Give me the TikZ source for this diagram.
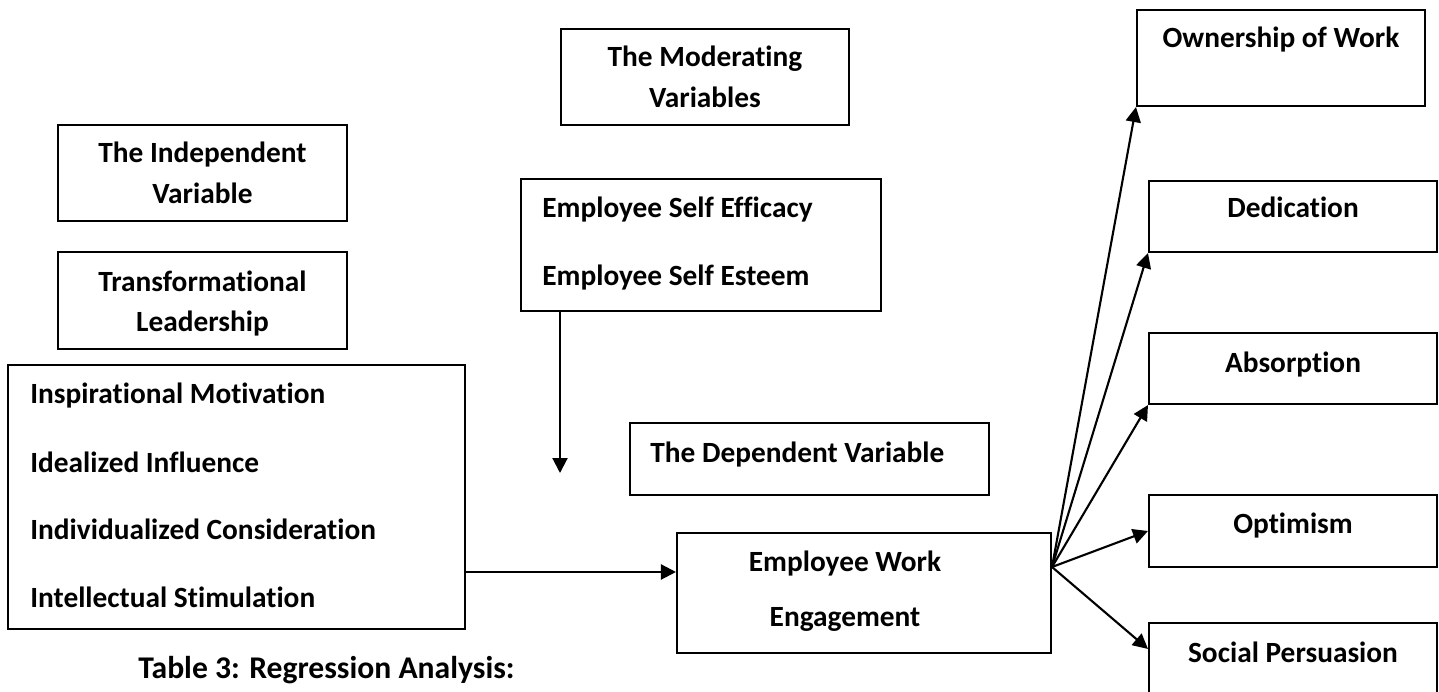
\documentclass[tikz,border=0pt]{standalone}
\usepackage{fontspec}
\setmainfont[Ligatures={NoCommon}]{Carlito}
\usetikzlibrary{arrows.meta}

\begin{document}
\begin{tikzpicture}[x=0.02cm, y=-0.02cm,
        box/.style={rectangle, draw, black, line width=1.2pt, inner sep=0pt},
        txt/.style={inner sep=0pt, font=\fontsize{16.7}{20}\selectfont\bfseries},
        arr/.style={-{Triangle[length=3mm, width=3mm]}, line width=1.2pt}]
        \useasboundingbox (0, 0) rectangle (1439, 692);

        % boxes
        \draw (202.5, 173) node[box, minimum width=5.78cm, minimum height=1.92cm](indep){}
        (202.5, 300.5) node[box, minimum width=5.78cm, minimum height=1.94cm](trans){}
        (236.5, 497) node[box, minimum width=9.14cm, minimum height=5.28cm](dims){}
        (705, 77) node[box, minimum width=5.76cm, minimum height=1.92cm](moder){}
        (701, 245) node[box, minimum width=7.2cm, minimum height=2.64cm](self){}
        (809.5, 459) node[box, minimum width=7.18cm, minimum height=1.44cm](dep){}
        (864, 593) node[box, minimum width=7.48cm, minimum height=2.4cm](eng){}
        (1281, 58) node[box, minimum width=5.76cm, minimum height=1.92cm](own){}
        (1293, 216.5) node[box, minimum width=5.76cm, minimum height=1.42cm](ded){}
        (1293, 368.5) node[box, minimum width=5.76cm, minimum height=1.42cm](abs){}
        (1293, 531) node[box, minimum width=5.76cm, minimum height=1.44cm](opt){}
        (1293, 671.5) node[box, minimum width=5.76cm, minimum height=1.94cm](soc){};

        % texts
        \node[txt, anchor=base] (indepa) at (202.5, 163) {The Independent};
        \node[txt, anchor=base] (indepb) at (202.5, 204) {Variable};
        \node[txt, anchor=base] (transa) at (202.5, 292) {Transformational};
        \node[txt, anchor=base] (transb) at (202.5, 332) {Leadership};
        \node[txt, anchor=base] (modera) at (705, 67) {The Moderating};
        \node[txt, anchor=base] (moderb) at (705, 108) {Variables};
        \node[txt, anchor=base west] (selfa) at (542, 218) {Employee Self Efficacy};
        \node[txt, anchor=base west] (selfb) at (542, 286) {Employee Self Esteem};
        \node[txt, anchor=base west] (dima) at (30, 403) {Inspirational Motivation};
        \node[txt, anchor=base west] (dimb) at (30, 472) {Idealized Influence};
        \node[txt, anchor=base west] (dimc) at (30, 539) {Individualized Consideration};
        \node[txt, anchor=base west] (dimd) at (30, 607) {Intellectual Stimulation};
        \node[txt, anchor=base west] (depa) at (650, 462) {The Dependent Variable};
        \node[txt, anchor=base] (enga) at (845, 571) {Employee Work};
        \node[txt, anchor=base] (engb) at (845, 626) {Engagement};
        \node[txt, anchor=base] (owna) at (1281, 48) {Ownership of Work};
        \node[txt, anchor=base] (deda) at (1293, 218) {Dedication};
        \node[txt, anchor=base] (absa) at (1293, 372) {Absorption};
        \node[txt, anchor=base] (opta) at (1293, 533) {Optimism};
        \node[txt, anchor=base] (soca) at (1293, 662) {Social Persuasion};
        \node[txt, anchor=base west, font=\fontsize{18}{22}\selectfont\bfseries] (cap) at (138, 678) {Table 3: Regression Analysis:};

        % connectors
        \coordinate (modtip) at (560, 473);
        \coordinate (inl) at ([yshift=-1.5cm]dims.east);
        \coordinate (fan) at ([yshift=0.52cm]eng.east);

        \draw[arr] (self.south west -| modtip) -- (modtip);
        \draw[arr] (inl) -- (inl -| eng.west);
        \draw[arr] (fan) -- (own.south west);
        \draw[arr] (fan) -- (ded.south west);
        \draw[arr] (fan) -- (abs.south west);
        \draw[arr] (fan) -- (opt.west);
        \draw[arr] (fan) -- ([yshift=-0.54cm]soc.north west);
    \end{tikzpicture}
\end{document}
